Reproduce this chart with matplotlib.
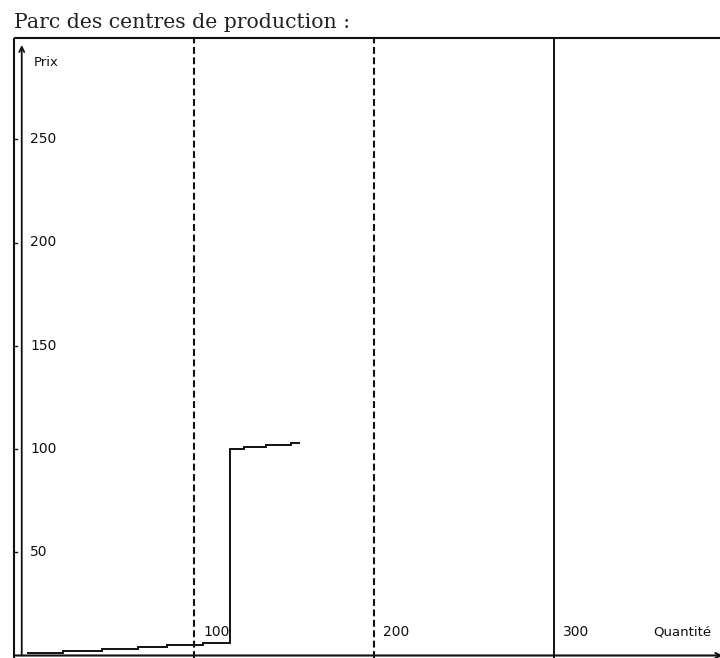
import matplotlib
matplotlib.use("Agg")
import matplotlib.pyplot as plt

# Merit-order curve of the production park (quantity edges, price per step)
step_edges = [7, 27, 49, 69, 85, 105, 120, 128, 140, 154, 159]
step_prices = [1, 2, 3, 4, 5, 6, 100, 101, 102, 103]

y_ticks = [50, 100, 150, 200, 250]
x_marks = [100, 200, 300]
x_mark_styles = ["dashed", "dashed", "solid"]

title = "Parc des centres de production :"
y_label = "Prix"
x_label = "Quantité"

INK = "#111111"

fig = plt.figure(figsize=(7.2, 6.58), dpi=100)
ax = fig.add_axes([0, 0, 1, 1])
ax.set_axis_off()

# data window: 1.8 px per quantity unit, 2.065 px per price unit
ax.set_xlim(-14 / 1.8, (720 - 14) / 1.8)
ax.set_ylim((655.5 - 658) / 2.065, 655.5 / 2.065)

x0, x1 = ax.get_xlim()
y0, y1 = ax.get_ylim()
top = (655.5 - 38) / 2.065

# outer frame
ax.plot([0, x1], [top, top], color=INK, lw=1.5, solid_capstyle="butt")
ax.plot([0, 0], [y0, top], color=INK, lw=1.5, solid_capstyle="butt")

# quantity axis with arrow at the right end
ax.annotate("", xy=(x1 + 1.5, 0), xytext=(0, 0), annotation_clip=False,
            arrowprops=dict(arrowstyle="->", color=INK, lw=1.5,
                            shrinkA=0, shrinkB=0, mutation_scale=9))

# price axis with arrow at the top
ax.annotate("", xy=(4.3, (655.5 - 45) / 2.065), xytext=(4.3, 0),
            annotation_clip=False,
            arrowprops=dict(arrowstyle="->", color=INK, lw=1.3,
                            shrinkA=0, shrinkB=0, mutation_scale=9))
ax.text(11.0, (655.5 - 63) / 2.065, y_label, fontsize=9.5, color=INK,
        va="center", ha="left", family="DejaVu Sans")

# price ticks
for v in y_ticks:
    ax.plot([0, 1.8], [v, v], color=INK, lw=1.0)
    ax.text(8.9, v, str(v), fontsize=10, color=INK, va="center",
            ha="left", family="DejaVu Sans")

# quantity reference lines
for q, style in zip(x_marks, x_mark_styles):
    if style == "dashed":
        ax.plot([q, q], [y0, top], color=INK, lw=1.5,
                linestyle=(0, (3.3, 1.7)))
    else:
        ax.plot([q, q], [y0, top], color=INK, lw=1.4)
    ax.text(q + 5, 11.4, str(q), fontsize=10, color=INK,
            va="center", ha="left", family="DejaVu Sans")

ax.text(355, 11.4, x_label, fontsize=9.5, color=INK, va="center",
        ha="left", family="DejaVu Sans")

# supply curve
ax.stairs(step_prices, step_edges, baseline=None, color=INK, lw=1.4)

# title
fig.text(14 / 720, 1 - 28 / 658, title, fontsize=14.7, color="#222222",
         family="DejaVu Serif", ha="left", va="baseline")

fig.savefig("out.png", dpi=100)
